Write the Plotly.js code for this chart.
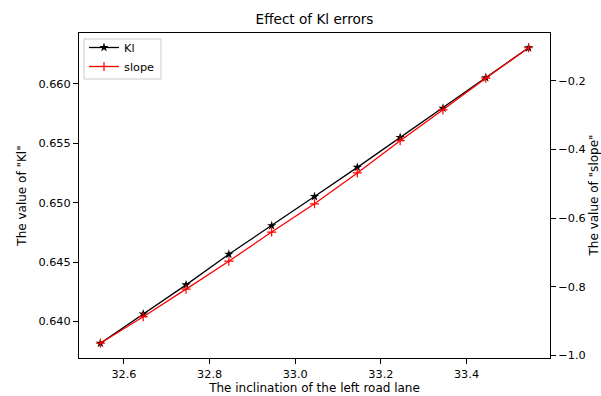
<!DOCTYPE html>
<html>
<head>
<meta charset="utf-8">
<script src="https://cdn.plot.ly/plotly-3.0.1.min.js"></script>
<style>html,body{margin:0;padding:0;background:#fff}#chart{width:601px;height:396px}</style>
</head>
<body>
<div id="chart"></div>
<script>
const inclination = [32.545, 32.645, 32.745, 32.845, 32.945, 33.045, 33.145, 33.245, 33.345, 33.445, 33.545];
const klValues = [0.63817, 0.64063, 0.64308, 0.64565, 0.64806, 0.65051, 0.65296, 0.65548, 0.65794, 0.66050, 0.66302];
const slopeValues = [-0.9654, -0.8880, -0.8076, -0.7260, -0.6410, -0.5585, -0.4684, -0.3744, -0.2843, -0.1920, -0.1032];
const xTickLabels = ['32.6', '32.8', '33.0', '33.2', '33.4'];

function padRange(arr) {
  const mn = Math.min(...arr), mx = Math.max(...arr), p = (mx - mn) * 0.05;
  return [mn - p, mx + p];
}

const font = {family: 'DejaVu Sans, sans-serif', size: 11.3, color: '#000'};
const titleFont = {family: 'DejaVu Sans, sans-serif', size: 12, color: '#000'};

const traces = [
  {
    x: inclination, y: klValues, name: 'Kl', type: 'scatter', mode: 'lines+markers',
    line: {color: '#000', width: 1.3},
    marker: {symbol: 'star', size: 7, color: '#000'},
    yaxis: 'y'
  },
  {
    x: inclination, y: slopeValues, name: 'slope', type: 'scatter', mode: 'lines+markers',
    line: {color: '#ff0000', width: 1.3},
    marker: {symbol: 'cross-thin', size: 6.5, line: {color: '#ff0000', width: 1.2}},
    yaxis: 'y2'
  }
];

const layout = {
  width: 601, height: 396,
  margin: {l: 79, r: 51, t: 33, b: 38, pad: 0},
  paper_bgcolor: '#fff', plot_bgcolor: '#fff',
  font: font,
  showlegend: true,
  title: {text: 'Effect of Kl errors', font: {family: 'DejaVu Sans, sans-serif', size: 13.6, color: '#000'},
          x: 0.5, xref: 'paper', xanchor: 'center', y: 0.952, yref: 'container', yanchor: 'middle'},
  xaxis: {
    range: padRange(inclination), tickvals: xTickLabels.map(Number), ticktext: xTickLabels,
    showgrid: false, zeroline: false, showline: true, linecolor: '#000', linewidth: 1, mirror: true,
    ticks: 'outside', ticklen: 5, tickwidth: 1, tickcolor: '#000',
    title: {text: 'The inclination of the left road lane', font: titleFont, standoff: 4}
  },
  yaxis: {
    range: padRange(klValues), dtick: 0.005, tick0: 0.64, tickformat: '.3f',
    showgrid: false, zeroline: false, showline: true, linecolor: '#000', linewidth: 1,
    ticks: 'outside', ticklen: 5, tickwidth: 1, tickcolor: '#000',
    title: {text: 'The value of "Kl"', font: titleFont, standoff: 9}
  },
  yaxis2: {
    overlaying: 'y', side: 'right',
    range: padRange(slopeValues), dtick: 0.2, tick0: -1.0, tickformat: '.1f',
    showgrid: false, zeroline: false, showline: true, linecolor: '#000', linewidth: 1,
    ticks: 'outside', ticklen: 5, tickwidth: 1, tickcolor: '#000'
  },
  annotations: [{
    text: 'The value of "slope"', font: titleFont, textangle: -90,
    xref: 'paper', yref: 'paper', x: 1, y: 0.5, xanchor: 'center', yanchor: 'middle',
    xshift: 43, showarrow: false
  }],
  shapes: [{
    type: 'rect', xref: 'paper', yref: 'paper', layer: 'above',
    x0: (84 - 79) / 471, x1: (161 - 79) / 471, y0: 1 - (79 - 33) / 325, y1: 1 - (39 - 33) / 325,
    line: {color: '#cccccc', width: 1}, fillcolor: 'rgba(255,255,255,0)'
  }],
  legend: {
    x: 0.0106, y: 1.0, xanchor: 'left', yanchor: 'top',
    bgcolor: 'rgba(255,255,255,0)', borderwidth: 0,
    font: font, tracegroupgap: 0
  }
};

Plotly.newPlot('chart', traces, layout, {displayModeBar: false, staticPlot: true});
</script>
</body>
</html>
